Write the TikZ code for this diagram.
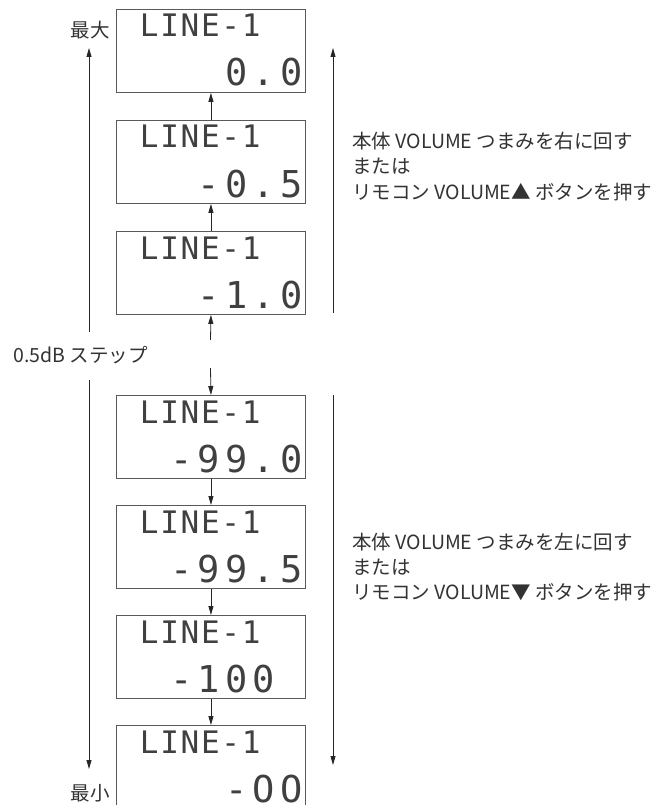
\documentclass[tikz,border=0pt]{standalone}
\usepackage{fontspec}
\usetikzlibrary{arrows.meta}
\newfontfamily\jp{Noto Sans CJK JP}
\newfontfamily\lcdfont{DejaVu Sans Mono}
\makeatletter
\newcommand\lcdrow[2]{\def\lcd@w{#1}\expandafter\lcd@loop#2\relax}
\def\lcd@loop#1{\ifx#1\relax\else\makebox[\lcd@w][c]{#1}\expandafter\lcd@loop\fi}
\makeatother
\tikzset{
  lcdbox/.style={draw=black!65, line width=0.9pt, minimum width=189pt, minimum height=83pt, inner sep=0pt, anchor=north west},
  conn/.style={draw=black!85, line width=0.8pt, -{Triangle[length=9pt,width=5pt]}},
  lbl/.style={font=\jp\fontsize{19.5}{25}\selectfont, text=black!80, inner sep=0pt},
  lcdtop/.style={font=\lcdfont\fontsize{31}{31}\selectfont, text=black!75, inner sep=0pt, anchor=base west},
  lcdval/.style={font=\lcdfont\fontsize{37}{37}\selectfont, text=black!75, inner sep=0pt, anchor=base west},
}
\begin{document}
\begin{tikzpicture}[x=1pt,y=1pt]
\useasboundingbox (0,0) rectangle (662,-805);
\fill[white] (0,0) rectangle (662,-805);
% display boxes
\foreach \i/\t/\v in {1/9/{~~0.0},2/120/{~-0.5},3/231/{~-1.0},4/395/{-99.0},5/505/{-99.5},6/615/{-100~},7/725/{~~-OO}}{
  \node[lcdbox] (b\i) at (116,-\t) {};
  \node[lcdtop] (l\i) at (138.8,-\t-28) {\lcdrow{20.4pt}{LINE-1}};
  \node[lcdval] (v\i) at (167.5,-\t-77) {\lcdrow{27.5pt}{\v}};
}
% small arrows
\draw[conn] (b2.north) -- (b1.south);
\draw[conn] (b3.north) -- (b2.south);
\coordinate (c3) at (210.5,-340);
\draw[conn] (c3) -- (b3.south);
\coordinate (c4) at (210.5,-368);
\draw[conn] (c4) -- (b4.north);
\draw[conn] (b4.south) -- (b5.north);
\draw[conn] (b5.south) -- (b6.north);
\draw[conn] (b6.south) -- (b7.north);
% long arrows left
\coordinate (la0) at (89,-332);
\coordinate (la1) at (89,-48);
\draw[conn] (la0) -- (la1);
\coordinate (lb0) at (89,-380);
\coordinate (lb1) at (89,-769);
\draw[conn] (lb0) -- (lb1);
% long arrows right
\coordinate (ra0) at (333,-313);
\coordinate (ra1) at (333,-48);
\draw[conn] (ra0) -- (ra1);
\coordinate (rb0) at (333,-395);
\coordinate (rb1) at (333,-765);
\draw[conn] (rb0) -- (rb1);
% labels
\node[lbl, anchor=base] (mx) at (90,-38) {最大};
\node[lbl, anchor=base] (mn) at (90,-800) {最小};
\node[lbl, anchor=base west] (st) at (13,-362) {0.5dB ステップ};
\node[lbl, anchor=base west] (u1) at (352,-149) {本体 VOLUME つまみを右に回す};
\node[lbl, anchor=base west] (u2) at (352,-174) {または};
\node[lbl, anchor=base west] (u3) at (352,-199) {リモコン VOLUME▲ ボタンを押す};
\node[lbl, anchor=base west] (d1) at (352,-549) {本体 VOLUME つまみを左に回す};
\node[lbl, anchor=base west] (d2) at (352,-574) {または};
\node[lbl, anchor=base west] (d3) at (352,-599) {リモコン VOLUME▼ ボタンを押す};
\end{tikzpicture}
\end{document}
